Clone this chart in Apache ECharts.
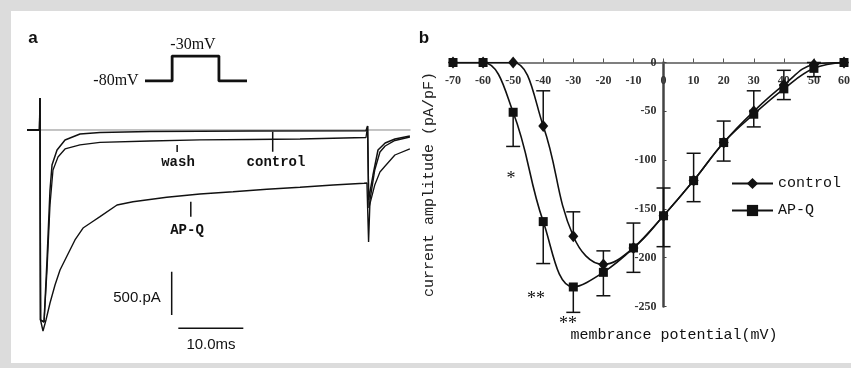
<!DOCTYPE html>
<html><head><meta charset="utf-8">
<script src="https://cdn.jsdelivr.net/npm/echarts@6/dist/echarts.min.js"></script>
<style>html,body{margin:0;padding:0;background:#dcdcdc;}#c{position:absolute;left:0;top:0;width:851px;height:368px;}</style>
</head><body><div id="c"></div>
<script>
// ---------- Panel a: current traces (time in ms, current in pA) ----------
const controlTrace = [[-2,0],[-0.08,0],[0,370],[0.08,-2194],[0.62,-2217],[1.08,-1501],[1.54,-693],[1.85,-404],[2.62,-231],[3.85,-115],[6.15,-46],[9.23,-29],[16.9,-17],[32.3,-12],[50.15,-8],[50.4,46],[50.55,-808],[51.23,-520],[52,-231],[53.1,-150],[54.6,-104],[56.9,-69]];
const washTrace = [[-2,0],[-0.08,0],[0,370],[0.08,-2194],[0.62,-2217],[1.08,-1617],[1.54,-866],[2,-462],[2.77,-312],[3.85,-219],[6.15,-173],[9.23,-144],[16.9,-127],[24.6,-115],[32.3,-110],[40,-104],[50.15,-87],[50.4,46],[50.6,-900],[51.5,-635],[52.3,-485],[53.1,-416],[54.6,-289],[56.9,-219]];
const apqTrace = [[-2,0],[-0.08,0],[0,370],[0.08,-2194],[0.46,-2321],[0.92,-2194],[1.54,-1998],[2.31,-1790],[3.08,-1617],[4.15,-1455],[5.38,-1270],[6.62,-1132],[8,-1062],[9.23,-1001],[11.85,-866],[14.3,-828],[19.5,-777],[24.6,-739],[29.7,-713],[34.9,-685],[40,-662],[45.1,-635],[49.85,-615],[50.3,-612],[50.55,-1293],[50.77,-808],[51.5,-462],[52.3,-254],[53.1,-185],[54.6,-121],[56.9,-81]];
const baselineA = [[-2,0],[57,0]];
const washPointer = [[21.1,-173],[21.1,-254]];
const controlPointer = [[35.8,-20],[35.8,-250]];
const apqPointer = [[23.2,-828],[23.2,-1001]];
const scaleBarV = [[20.26,-1636],[20.26,-2136]];
const scaleBarH = [[21.28,-2290],[31.28,-2290]];
// voltage protocol (ms, mV)
const protocol = [[-29,-80],[0,-80],[0,-30],[50,-30],[50,-80],[80,-80]];

// ---------- Panel b: I-V curve ----------
const potentials = [-70,-60,-50,-40,-30,-20,-10,0,10,20,30,40,50,60];
const controlIV = [0,0,0,-65,-178,-207,-190,-157,-121,-82,-50,-23,-2,0];
const apqIV     = [0,0,-51,-163,-230,-215,-190,-157,-121,-82,-53,-27,-6,0];
const controlErrEnd = [null,null,null,-29,-153,-193,-164.5,-128.6,-93,-60,-29,-8,0,null];
const apqErrEnd     = [null,null,-86,-206,-256,-239,-215,-188.7,-142.6,-101,-66,-38,-14.5,null];
const xTicks = {min:-70, max:60, interval:10};
const yTicks = {min:-250, max:0, interval:50};

const chart = echarts.init(document.getElementById('c'), null, {renderer:'canvas'});

const gridBW = 391;
// y axis crosses the x axis at 0 mV
const yAxisShift = -gridBW * (0 - xTicks.min) / (xTicks.max - xTicks.min);

function pairs(xs, ys){ return xs.map((x,i)=>[x, ys[i]]); }
function errData(xs, means, ends){
  const out=[]; xs.forEach((x,i)=>{ if(ends[i]!==null) out.push([x, means[i], ends[i]]); }); return out;
}
function errRender(params, api){
  const x=api.value(0), m=api.value(1), e=api.value(2);
  const p1=api.coord([x,m]), p2=api.coord([x,e]);
  const hw=7;
  const st={stroke:'#111', lineWidth:1.5};
  return {type:'group', children:[
    {type:'line', shape:{x1:p1[0],y1:p1[1],x2:p2[0],y2:p2[1]}, style:st},
    {type:'line', shape:{x1:p2[0]-hw,y1:p2[1],x2:p2[0]+hw,y2:p2[1]}, style:st}
  ]};
}
function lineS(data, xi, yi, color, width, z){
  return {type:'line', xAxisIndex:xi, yAxisIndex:yi, data:data, showSymbol:false, symbol:'none',
    lineStyle:{color:color, width:width}, silent:true, z:z||2, animation:false};
}
const monoFont = '"Liberation Mono", "DejaVu Sans Mono", monospace';
const serifFont = '"Liberation Serif", "DejaVu Serif", serif';
const sansFont = '"Liberation Sans", Arial, sans-serif';

function txt(x,y,s,font,size,weight,align){
  return {type:'text', x:x, y:y, z:100, style:{text:s, fontFamily:font, fontSize:size, fontWeight:weight||'normal',
    fill:'#111', textAlign:align||'center', textVerticalAlign:'middle'}};
}

const option = {
  animation:false,
  backgroundColor:'transparent',
  graphic:[
    {type:'rect', shape:{x:11,y:11,width:840,height:352}, style:{fill:'#ffffff'}, z:-10},
    txt(33,38,'a',sansFont,17,'bold'),
    txt(424,38,'b',sansFont,17,'bold'),
    txt(116,81,'-80mV',serifFont,16,'normal'),
    txt(193,45,'-30mV',serifFont,16,'normal'),
    txt(178,162,'wash',monoFont,14,'bold'),
    txt(276,162,'control',monoFont,14,'bold'),
    txt(187,230,'AP-Q',monoFont,14,'bold'),
    txt(137,298,'500.pA',sansFont,15,'normal'),
    txt(211,345,'10.0ms',sansFont,15,'normal'),
    txt(511,179,'*',serifFont,18,'normal'),
    txt(536,299,'**',serifFont,18,'normal'),
    txt(568,324,'**',serifFont,18,'normal'),
    txt(674,335,'membrance potential(mV)',monoFont,15,'normal')
  ],
  grid:[
    {left:27, top:60.7, width:383.5, height:285.8, outerBoundsMode:'none', containLabel:false},
    {left:145, top:56, width:102, height:25, outerBoundsMode:'none', containLabel:false},
    {left:453, top:62.5, width:gridBW, height:244, outerBoundsMode:'none', containLabel:false}
  ],
  xAxis:[
    {gridIndex:0, type:'value', min:-2, max:57, show:false},
    {gridIndex:1, type:'value', min:-29, max:80, show:false},
    {gridIndex:2, type:'value', min:xTicks.min, max:xTicks.max, interval:xTicks.interval, position:'top',
      axisLine:{onZero:false, lineStyle:{color:'#555', width:1.5}},
      axisTick:{inside:false, length:4, lineStyle:{color:'#555', width:1}},
      axisLabel:{inside:true, color:'#333', fontFamily:serifFont, fontSize:12, fontWeight:'bold', margin:12, showMinLabel:true, showMaxLabel:true},
      splitLine:{show:false}}
  ],
  yAxis:[
    {gridIndex:0, type:'value', min:-2500, max:800, show:false},
    {gridIndex:1, type:'value', min:-80, max:-30, show:false},
    {gridIndex:2, type:'value', min:yTicks.min, max:yTicks.max, interval:yTicks.interval, position:'left', offset:yAxisShift,
      axisLine:{onZero:false, lineStyle:{color:'#444', width:2.5}},
      axisTick:{inside:true, length:3, lineStyle:{color:'#444', width:1}},
      axisLabel:{color:'#333', fontFamily:serifFont, fontSize:12, fontWeight:'bold', margin:7},
      splitLine:{show:false},
      name:'current amplitude (pA/pF)', nameLocation:'middle', nameGap:227, nameRotate:90, nameMoveOverlap:false,
      nameTextStyle:{fontFamily:monoFont, fontSize:15, color:'#222'}}
  ],
  legend:{
    left:726, top:171, orient:'vertical', itemWidth:41, itemHeight:14, itemGap:12,
    textStyle:{fontFamily:monoFont, fontSize:15, color:'#111'},
    data:['control','AP-Q'],
    selectedMode:false
  },
  series:[
    lineS(baselineA,0,0,'#888',1,1),
    lineS(washTrace,0,0,'#111',1.3,2),
    lineS(controlTrace,0,0,'#111',1.5,3),
    lineS(apqTrace,0,0,'#111',1.4,3),
    lineS(washPointer,0,0,'#111',1.5,4),
    lineS(controlPointer,0,0,'#111',1.5,4),
    lineS(apqPointer,0,0,'#111',1.5,4),
    lineS(scaleBarV,0,0,'#111',1.5,4),
    lineS(scaleBarH,0,0,'#111',1.5,4),
    lineS(protocol,1,1,'#111',2.8,4),
    {type:'custom', name:'errC', xAxisIndex:2, yAxisIndex:2, data:errData(potentials,controlIV,controlErrEnd), renderItem:errRender, z:3, silent:true},
    {type:'custom', name:'errA', xAxisIndex:2, yAxisIndex:2, data:errData(potentials,apqIV,apqErrEnd), renderItem:errRender, z:3, silent:true},
    {type:'line', name:'control', xAxisIndex:2, yAxisIndex:2, data:pairs(potentials,controlIV), smooth:0.4,
      symbol:'diamond', symbolSize:[10,12], itemStyle:{color:'#111'}, lineStyle:{color:'#111', width:1.6}, z:5},
    {type:'line', name:'AP-Q', xAxisIndex:2, yAxisIndex:2, data:pairs(potentials,apqIV), smooth:0.4,
      symbol:'rect', symbolSize:9, itemStyle:{color:'#111'}, lineStyle:{color:'#111', width:1.6}, z:5}
  ]
};
chart.setOption(option);
</script></body></html>
